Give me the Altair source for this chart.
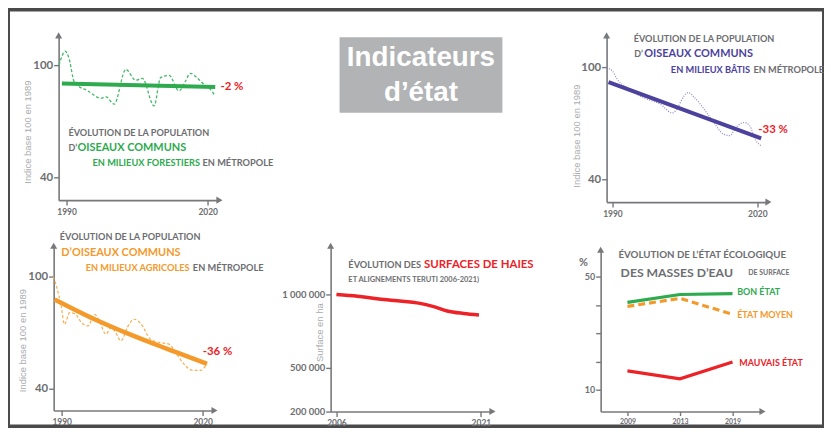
import altair as alt
import pandas as pd

W, H = 822, 420

# ---------------- colours ----------------
GRAY = "#6d6e71"
AXIS = "#77787b"
LIGHT = "#a9abae"
GREEN = "#2eaa4f"
GREEN_L = "#45b868"
PURPLE = "#4c429e"
PURPLE_L = "#8a84c6"
ORANGE = "#f39a2b"
ORANGE_L = "#f6ad4f"
RED = "#ec2227"
BOX = "#b1b3b5"
FRAME = "#4a4a4a"

# ---------------- data ----------------
forest_years = [1988.4, 1989.7, 1990.4, 1991.7, 1994.5, 1997.3, 1998.4, 2000.1, 2002.6, 2004.7,
                2006.1, 2008.6, 2010.0, 2011.8, 2013.9, 2015.3, 2016.3, 2017.7, 2019.2, 2020.2, 2021.6]
forest_index = [100.0, 107.4, 104.5, 90.6, 86.2, 82.3, 83.0, 79.1, 97.7, 91.9,
                92.9, 78.2, 93.3, 94.5, 86.2, 91.5, 95.6, 93.3, 89.7, 88.0, 83.5]
forest_trend_years = [1989.0, 2021.6]
forest_trend_index = [90.1, 88.3]

bati_years = [1988.8, 1990.0, 1991.0, 1993.0, 1996.4, 1999.9, 2002.4, 2005.7, 2007.0, 2009.5,
              2011.2, 2012.9, 2014.3, 2015.6, 2017.3, 2018.4, 2019.7, 2020.8]
bati_index = [99.6, 97.9, 93.5, 89.0, 83.7, 80.2, 75.5, 86.4, 83.7, 75.7,
              69.6, 64.3, 63.4, 67.8, 70.4, 68.7, 60.7, 58.0]
bati_trend_years = [1989.2, 2020.8]
bati_trend_index = [92.0, 61.9]

agri_years = [1988.2, 1988.9, 1989.9, 1990.6, 1991.7, 1992.9, 1994.2, 1995.6, 1997.0, 1998.0,
              1999.4, 2000.5, 2001.5, 2002.6, 2004.0, 2005.4, 2006.8, 2008.9, 2010.7, 2012.8,
              2014.2, 2016.0, 2017.6, 2019.5, 2020.9]
agri_index = [100.0, 94.8, 84.2, 74.5, 80.7, 80.0, 75.4, 73.6, 79.8, 76.5,
              69.2, 72.7, 70.0, 65.6, 73.0, 77.2, 75.0, 66.5, 64.8, 63.9,
              59.5, 53.3, 50.0, 49.8, 53.3]
agri_trend_years = [1988.5, 1997.0, 2004.0, 2011.1, 2014.6, 2020.9]
agri_trend_index = [87.8, 77.2, 69.6, 62.6, 59.3, 53.3]

haies_years = [2006.0, 2008.2, 2010.2, 2012.0, 2014.7, 2016.1, 2017.5, 2019.2, 2020.8]
haies_ha = [1000000, 988000, 971000, 959000, 939000, 917000, 887000, 870000, 860000]

eau_years = ["2009", "2013", "2019"]
eau_bon = [40.9, 43.7, 44.0]
eau_moyen = [39.5, 42.3, 36.7]
eau_mauvais = [16.7, 13.9, 19.8]

# tick values / labels
bird_x_ticks = [1990, 2020]
bird_y_ticks = [40, 100]
haies_x_ticks = [2006, 2021]
haies_y_ticks = [200000, 500000, 1000000]
haies_y_labels = ["200 000", "500 000", "1 000 000"]
eau_y_ticks = [10, 20, 30, 40, 50]
eau_y_labelled = [10, 50]

title_lines = ["Indicateurs", "d\u2019\u00e9tat"]

# ---------------- panel frames (scale domain -> pixel range) ----------------
P1 = dict(xd=[1988.3, 2022.5], xr=[51, 213], yd=[27.8, 115.9], yr=[192, 26])
P2 = dict(xd=[1988.8, 2022.3], xr=[603, 766], yd=[27.8, 117.0], yr=[194, 26])
P3 = dict(xd=[1988.3, 2022.5], xr=[46, 208], yd=[28.3, 116.5], yr=[404, 238])
P4 = dict(xd=[2005.4, 2022.2], xr=[325, 488], yd=[200000, 1332000], yr=[405, 238])
P5 = dict(xd=[-0.51, 2.57], xr=[597, 760], yd=[2.3, 59.5], yr=[405, 242])


def sx(p):
    return alt.Scale(domain=p["xd"], range=p["xr"], nice=False, zero=False)


def sy(p):
    return alt.Scale(domain=p["yd"], range=p["yr"], nice=False, zero=False)


AXBASE = dict(grid=False, domainColor=AXIS, domainWidth=1.6, tickColor=AXIS, tickWidth=1.4,
              labelColor=GRAY, labelFont="Lato", labelFontWeight="bold")


def x_axis(p, values, size, label_expr=None, tick=5):
    kw = dict(AXBASE, orient="bottom", offset=p["yr"][0] - H, values=values, title=None,
              tickSize=tick, labelFontSize=size, labelPadding=2, format="d")
    if label_expr:
        kw["labelExpr"] = label_expr
    return alt.Axis(**kw)


def y_axis(p, values, size, title=None, tx=0, ty=0, label_expr=None):
    kw = dict(AXBASE, orient="left", offset=-p["xr"][0], values=values,
              tickSize=5, labelFontSize=size, labelPadding=1)
    if title:
        kw.update(title=title, titleX=tx, titleY=ty, titleFont="Liberation Sans",
                  titleFontWeight="normal", titleFontSize=9.5, titleColor=LIGHT)
    else:
        kw["title"] = None
    if label_expr:
        kw["labelExpr"] = label_expr
    return alt.Axis(**kw)


def line(p, xs, ys, color, width, dash=None, interp="monotone", xaxis=None, yaxis=None):
    df = pd.DataFrame({"x": xs, "y": ys})
    mk = dict(color=color, strokeWidth=width, interpolate=interp, strokeCap="butt")
    if dash:
        mk["strokeDash"] = dash
    return alt.Chart(df).mark_line(**mk).encode(
        x=alt.X("x:Q", scale=sx(p), axis=xaxis),
        y=alt.Y("y:Q", scale=sy(p), axis=yaxis),
    )


def notes(p, rows):
    df = pd.DataFrame(rows, columns=["x", "y", "t", "c", "s"])
    return alt.Chart(df).mark_text(align="left", baseline="middle", font="Lato",
                                   fontWeight="bold").encode(
        x=alt.X("x:Q", scale=sx(p), axis=None),
        y=alt.Y("y:Q", scale=sy(p), axis=None),
        text="t:N",
        color=alt.Color("c:N", scale=None),
        size=alt.Size("s:Q", scale=None),
    )


def arrows(p):
    df = pd.DataFrame({"x": [p["xd"][0], p["xd"][1]], "y": [p["yd"][1], p["yd"][0]],
                       "shape": ["triangle-up", "triangle-right"]})
    return alt.Chart(df).mark_point(filled=True, size=50, color=AXIS, opacity=1).encode(
        x=alt.X("x:Q", scale=sx(p), axis=None),
        y=alt.Y("y:Q", scale=sy(p), axis=None),
        shape=alt.Shape("shape:N", scale=None),
    )


EVOL = "\u00c9VOLUTION DE LA POPULATION"
DAP = "D\u2019"
OC = "OISEAUX COMMUNS"
EM = "EN M\u00c9TROPOLE"
SC = 9.3  # small-caps size

layers = []

# ---------------- panel 1 : forest ----------------
layers += [
    line(P1, forest_years, forest_index, GREEN_L, 1.3, dash=[3, 2],
         xaxis=x_axis(P1, bird_x_ticks, 8.5),
         yaxis=y_axis(P1, bird_y_ticks, 11.5, "Indice base 100 en 1989", -26, 123)),
    line(P1, forest_trend_years, forest_trend_index, GREEN, 4, interp="linear"),
    arrows(P1),
    notes(P1, [
        [1990.4, 63.9, EVOL, GRAY, 9.2],
        [1990.4, 55.9, DAP, GRAY, 9],
        [1992.3, 55.9, OC, GREEN, 11],
        [1995.5, 47.4, "EN MILIEUX FORESTIERS", GREEN, SC],
        [2018.9, 47.4, EM, GRAY, SC],
        [2022.7, 88.3, "-2 %", RED, 11.5],
    ]),
]

# ---------------- panel 2 : bâtis ----------------
layers += [
    line(P2, bati_years, bati_index, PURPLE_L, 1.2, dash=[1, 1.5],
         xaxis=x_axis(P2, bird_x_ticks, 8.5),
         yaxis=y_axis(P2, bird_y_ticks, 11.5, "Indice base 100 en 1989", -25, 127)),
    line(P2, bati_trend_years, bati_trend_index, PURPLE, 4, interp="linear"),
    arrows(P2),
    notes(P2, [
        [1994.4, 114.9, EVOL, GRAY, 9.2],
        [1994.5, 106.9, DAP, GRAY, 9],
        [1996.6, 106.9, OC, PURPLE, 11],
        [2002.1, 98.4, "EN MILIEUX B\u00c2TIS", PURPLE, SC],
        [2019.2, 98.4, EM, GRAY, SC],
        [2020.2, 66.5, "-33 %", RED, 11.5],
    ]),
]

# ---------------- panel 3 : agricole ----------------
layers += [
    line(P3, agri_years, agri_index, ORANGE_L, 1.2, dash=[3, 2],
         xaxis=x_axis(P3, bird_x_ticks, 8.5),
         yaxis=y_axis(P3, bird_y_ticks, 11.5, "Indice base 100 en 1989", -26, 333)),
    line(P3, agri_trend_years, agri_trend_index, ORANGE, 4.5),
    arrows(P3),
    notes(P3, [
        [1989.6, 121.1, EVOL, GRAY, 9.2],
        [1989.9, 112.6, DAP + OC, ORANGE, 11],
        [1995.1, 104.6, "EN MILIEUX AGRICOLES", ORANGE, SC],
        [2017.9, 104.6, EM, GRAY, SC],
        [2020.0, 59.5, "-36 %", RED, 11.5],
    ]),
]

# ---------------- panel 4 : haies ----------------
haies_expr = " : ".join(
    f"datum.value == {v} ? '{l}'" for v, l in zip(haies_y_ticks, haies_y_labels)) + " : ''"
layers += [
    line(P4, haies_years, haies_ha, RED, 3.5,
         xaxis=x_axis(P4, haies_x_ticks, 8.5),
         yaxis=y_axis(P4, haies_y_ticks, 9.5, "Surface en ha", -6, 325, label_expr=haies_expr)),
    arrows(P4),
    notes(P4, [
        [2007.24, 1203400, "\u00c9VOLUTION DES", GRAY, SC],
        [2015.1, 1203400, "SURFACES DE HAIES", RED, 11.5],
        [2007.24, 1101700, "ET ALIGNEMENTS TERUTI 2006-2021)", GRAY, 7.5],
    ]),
]

# ---------------- panel 5 : masses d'eau ----------------
eau_idx = list(range(len(eau_years)))
eau_x_expr = "[" + ",".join(f"'{y}'" for y in eau_years) + "][datum.value]"
eau_y_expr = " || ".join(f"datum.value == {v}" for v in eau_y_labelled) + " ? datum.label : ''"
layers += [
    line(P5, eau_idx, eau_bon, GREEN, 3.2, interp="linear",
         xaxis=x_axis(P5, eau_idx, 7, label_expr=eau_x_expr, tick=4),
         yaxis=y_axis(P5, eau_y_ticks, 9, label_expr=eau_y_expr)),
    line(P5, eau_idx, eau_moyen, ORANGE, 3.2, dash=[7, 4], interp="linear"),
    line(P5, eau_idx, eau_mauvais, RED, 3.2, interp="linear"),
    arrows(P5),
    notes(P5, [
        [-0.17, 57.7, "\u00c9VOLUTION DE L\u2019\u00c9TAT \u00c9COLOGIQUE", GRAY, 9.8],
        [-0.13, 51.4, "DES MASSES D\u2019EAU", GRAY, 12.3],
        [2.3, 51.4, "DE SURFACE", GRAY, 7],
        [-0.92, 54.9, "%", GRAY, 11],
        [2.09, 44.4, "BON \u00c9TAT", GREEN, 9],
        [2.09, 36.3, "\u00c9TAT MOYEN", ORANGE, 9],
        [2.13, 19.5, "MAUVAIS \u00c9TAT", RED, 9],
    ]),
]

# ---------------- title box ----------------
one = pd.DataFrame({"k": [0]})
box = alt.Chart(one).mark_rect(color=BOX).encode(
    x=alt.value(334), x2=alt.value(498), y=alt.value(28), y2=alt.value(104))
box_text = alt.Chart(one).mark_text(
    text=title_lines, font="Liberation Sans", fontWeight="bold", fontSize=28,
    color="white", lineHeight=35, align="center", baseline="middle",
).encode(x=alt.value(416), y=alt.value(49))
layers += [box, box_text]

chart = alt.layer(*layers).resolve_scale(
    x="independent", y="independent"
).properties(
    width=W, height=H, padding=0,
    autosize=alt.AutoSizeParams(type="none"),
    background="white",
).configure_view(stroke=FRAME, strokeWidth=4)

chart.save("out.html", embed_options={"renderer": "svg", "actions": False})
